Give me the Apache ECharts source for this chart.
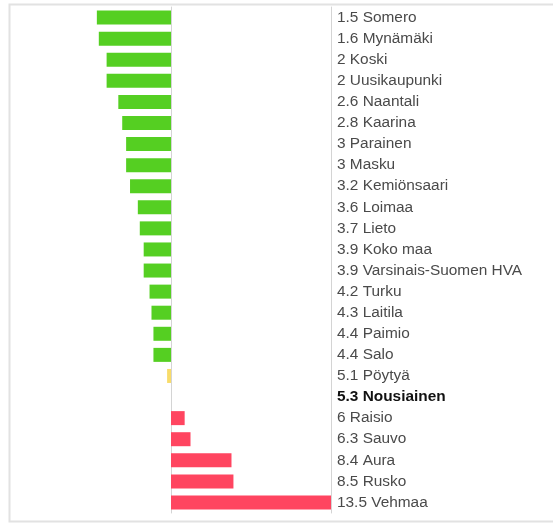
<!DOCTYPE html>
<html>
<head>
<meta charset="utf-8">
<script src="https://cdn.jsdelivr.net/npm/echarts@6/dist/echarts.min.js"></script>
<style>
  html, body { margin: 0; padding: 0; background: #fff; }
  #chart { width: 553px; height: 523px; }
</style>
</head>
<body>
<div id="chart"></div>
<script>
// Municipalities, top to bottom
const names = [
  'Somero', 'Mynämäki', 'Koski', 'Uusikaupunki', 'Naantali', 'Kaarina',
  'Parainen', 'Masku', 'Kemiönsaari', 'Loimaa', 'Lieto', 'Koko maa',
  'Varsinais-Suomen HVA', 'Turku', 'Laitila', 'Paimio', 'Salo', 'Pöytyä',
  'Nousiainen', 'Raisio', 'Sauvo', 'Aura', 'Rusko', 'Vehmaa'
];
const values = [
  1.5, 1.6, 2, 2, 2.6, 2.8,
  3, 3, 3.2, 3.6, 3.7, 3.9,
  3.9, 4.2, 4.3, 4.4, 4.4, 5.1,
  5.3, 6, 6.3, 8.4, 8.5, 13.5
];
// Reference municipality: bars diverge from its value
const baselineName = 'Nousiainen';

const baseline = values[names.indexOf(baselineName)];
const diffs = values.map(v => +(v - baseline).toFixed(2));
const span = Math.max(...diffs.map(Math.abs));

function barColor(d) {
  if (d > 0) return '#ff4560';
  if (d > -0.5) return '#f8dc6a';
  return '#55cf22';
}

const FONT = 'Liberation Sans, Arial, sans-serif';

const chart = echarts.init(document.getElementById('chart'), null, { renderer: 'canvas' });
chart.setOption({
  animation: false,
  backgroundColor: '#fff',
  textStyle: { fontFamily: FONT },
  grid: { left: 11, right: 222, top: 7, bottom: 10, containLabel: false },
  xAxis: {
    type: 'value',
    min: -span,
    max: span,
    show: false,
    splitLine: { show: false }
  },
  yAxis: [
    {
      type: 'category',
      data: names,
      inverse: true,
      axisLine: { show: true, onZero: true, lineStyle: { color: '#d4d4d4', width: 1 } },
      axisTick: { show: false },
      axisLabel: { show: false }
    },
    {
      type: 'category',
      data: names,
      inverse: true,
      position: 'right',
      axisLine: { show: true, lineStyle: { color: '#d4d4d4', width: 1 } },
      axisTick: { show: false },
      axisLabel: {
        margin: 6,
        fontFamily: FONT,
        fontSize: 15.4,
        color: '#4a4a4a',
        formatter: (name, i) => {
          const text = values[i] + ' ' + name;
          return name === baselineName ? '{b|' + text + '}' : text;
        },
        rich: {
          b: { fontFamily: FONT, fontSize: 15.4, fontWeight: 'bold', color: '#111' }
        }
      }
    }
  ],
  series: [{
    type: 'bar',
    yAxisIndex: 0,
    barWidth: 14,
    data: diffs.map(d => ({ value: d, itemStyle: { color: barColor(d) } }))
  }],
  graphic: [{
    type: 'rect',
    silent: true,
    shape: { x: 9.5, y: 4.5, width: 600, height: 517 },
    style: { fill: 'none', stroke: '#e2e2e2', lineWidth: 2 }
  }]
});
</script>
</body>
</html>
